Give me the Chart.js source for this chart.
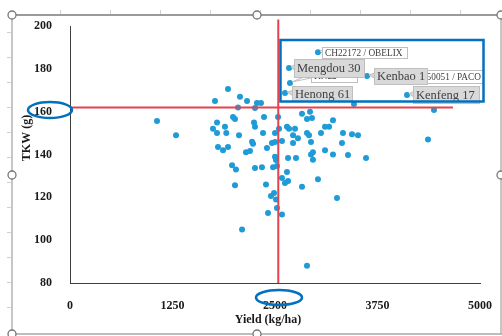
<!DOCTYPE html>
<html>
<head>
<meta charset="utf-8">
<script src="https://cdn.jsdelivr.net/npm/chart.js@4.4.0/dist/chart.umd.min.js"></script>
<style>
  html, body { margin: 0; padding: 0; background: #fff; overflow: hidden; }
  #wrap { width: 502px; height: 336px; }
</style>
</head>
<body>
<div id="wrap"><canvas id="chart" width="502" height="336"></canvas></div>
<script>
/* ── Data ── */
const xTicks = [0, 1250, 2500, 3750, 5000];
const yTicks = [80, 100, 120, 140, 160, 180, 200];

// unlabeled genotypes: yield (kg/ha) and TKW (g)
const yieldVals = [
  1061, 1293, 1768, 1927, 2073, 2159, 2280, 2049, 2256, 1793,
  1988, 2012, 1890, 1744, 1793, 1906, 2061, 2244, 2256, 2220,
  2232, 1805, 1866, 1927, 2146, 2195, 1976, 2024, 2256, 2012,
  2098, 2329, 2829, 2927, 2951, 2890, 3207, 2366, 2537, 2646,
  2671, 2744, 2720, 2780, 2549, 2354, 2500, 2890, 2915, 3061,
  3110, 3159, 3329, 3439, 3512, 2939, 3317, 2402, 2463, 2500,
  2585, 2720, 2963, 2939, 3110, 3207, 3390, 3610, 2659, 2756,
  2963, 2500, 2512, 2341, 2476, 2524, 2646, 2390, 2585, 2622,
  2659, 2829, 3024, 2451, 2488, 2512, 3256, 2415, 2524, 2585,
  2890, 3463, 4439, 4366
];
const tkwVals = [
  155.6, 149.0, 165.0, 170.6, 167.0, 165.0, 164.0, 162.0, 161.7, 155.0,
  157.5, 156.6, 153.0, 152.0, 150.0, 150.0, 149.0, 155.0, 153.0, 146.0,
  145.0, 143.5, 142.0, 143.5, 141.0, 141.6, 135.0, 133.0, 133.7, 125.7,
  105.0, 164.0, 159.0, 160.0, 157.0, 156.6, 156.0, 157.5, 157.5, 153.0,
  152.0, 152.0, 149.0, 147.6, 152.0, 150.0, 150.0, 150.0, 149.0, 150.0,
  153.0, 153.0, 150.0, 149.5, 149.0, 145.8, 145.4, 143.0, 145.4, 145.8,
  146.3, 145.4, 141.0, 140.0, 142.0, 140.0, 139.8, 138.4, 138.4, 138.4,
  137.5, 139.0, 137.4, 134.0, 134.0, 134.6, 131.8, 126.0, 129.0, 126.7,
  127.6, 125.0, 128.5, 120.6, 122.0, 119.0, 119.7, 112.7, 115.0, 112.0,
  88.0, 163.6, 160.8, 147.0
];

// labeled genotypes
const namedGenotypes = ['KN22', 'CH22172 / OBELIX', '50051 / PACO', 'Mengdou 30', 'Kenbao 1', 'Henong 61', 'Kenfeng 17'];
const namedYield     = [2683, 3024, 4146, 2671, 3622, 2622, 4110];
const namedTkw       = [173.4, 187.8, 176.2, 180.4, 176.6, 168.7, 167.8];

// reference lines
const tkwRef   = 162;
const yieldRef = 2540;
const hLineX   = [0, 4670];
const vLineY   = [80, 203];

/* ── Styles ── */
const SERIF  = "'Liberation Serif', 'Times New Roman', serif";
const DOT    = '#1f9bd7';
const RED    = '#e5424d';
const MARK   = '#0070c0';

// callout boxes (pixel offsets from the point)
const calloutStyle = [
  { dx: 21, dy: -13, w: 46, h: 12, big: false },
  { dx: 4,  dy: -5,  w: 85, h: 11, big: false },
  { dx: 0,  dy: -7,  w: 73, h: 13, big: false, right: true },
  { dx: 5,  dy: -9,  w: 70, h: 18, big: true },
  { dx: 7,  dy: -8,  w: 53, h: 16, big: true },
  { dx: 7,  dy: -7,  w: 60, h: 15, big: true },
  { dx: 6,  dy: -9,  w: 66, h: 17, big: true },
];

function drawCallout(ctx, px, py, s, text) {
  const x = Math.round(px + s.dx), y = Math.round(py + s.dy);
  const fill = s.big ? '#d9d9d9' : '#ffffff';
  ctx.fillStyle   = fill;
  ctx.strokeStyle = '#bfbfbf';
  ctx.lineWidth   = 1;
  // tail toward the point
  ctx.beginPath();
  ctx.moveTo(x + 1, y + s.h * 0.3);
  ctx.lineTo(px + 2, py - 1);
  ctx.lineTo(x + 1, y + s.h * 0.65);
  ctx.closePath();
  ctx.fill(); ctx.stroke();
  ctx.fillRect(x, y, s.w, s.h);
  ctx.strokeRect(x + 0.5, y + 0.5, s.w, s.h);
  ctx.fillStyle    = '#404040';
  ctx.textBaseline = 'middle';
  ctx.font = s.big ? `12.5px ${SERIF}` : `9.3px ${SERIF}`;
  if (s.right) {
    ctx.textAlign = 'right';
    ctx.fillText(text, x + s.w - 2, y + s.h / 2 + 1);
  } else {
    ctx.textAlign = 'left';
    ctx.fillText(text, x + 3, y + s.h / 2 + 1);
  }
}

function handle(ctx, x, y) {
  ctx.beginPath();
  ctx.arc(x, y, 4, 0, Math.PI * 2);
  ctx.fillStyle = '#fff'; ctx.fill();
  ctx.strokeStyle = '#777'; ctx.lineWidth = 1.3; ctx.stroke();
}

const decoPlugin = {
  id: 'deco',
  beforeDraw(chart) {
    const ctx = chart.ctx;
    ctx.save();
    ctx.fillStyle = '#fff';
    ctx.fillRect(0, 0, chart.width, chart.height);
    ctx.restore();
  },
  afterDraw(chart) {
    const ctx  = chart.ctx;
    const meta = chart.getDatasetMeta(2);
    ctx.save();

    // callouts: white first, then gray ones on top
    [0, 1, 2, 3, 4, 5, 6].forEach(i => {
      const p = meta.data[i];
      drawCallout(ctx, p.x, p.y, calloutStyle[i], namedGenotypes[i]);
    });

    // blue highlight rectangle and ellipses
    ctx.strokeStyle = MARK;
    ctx.lineWidth   = 2.5;
    ctx.strokeRect(280.5, 40, 203, 61.5);
    ctx.beginPath(); ctx.ellipse(50, 110, 22, 8, 0, 0, Math.PI * 2); ctx.stroke();
    ctx.beginPath(); ctx.ellipse(279, 297.5, 23, 7.5, 0, 0, Math.PI * 2); ctx.stroke();

    // axis titles
    ctx.fillStyle    = '#1a1a1a';
    ctx.font         = `bold 12px ${SERIF}`;
    ctx.textAlign    = 'center';
    ctx.textBaseline = 'middle';
    ctx.fillText('Yield (kg/ha)', 268, 320);
    ctx.save();
    ctx.translate(27, 138);
    ctx.rotate(-Math.PI / 2);
    ctx.fillText('TKW (g)', 0, 0);
    ctx.restore();

    // chart frame (selection look)
    ctx.strokeStyle = '#9a9a9a';
    ctx.lineWidth = 2;
    ctx.beginPath(); ctx.moveTo(12, 15); ctx.lineTo(502, 15); ctx.stroke();
    ctx.lineWidth = 1.3;
    ctx.strokeStyle = '#a8a8a8';
    ctx.beginPath();
    ctx.moveTo(12, 15); ctx.lineTo(12, 334); ctx.lineTo(502, 334);
    ctx.moveTo(501, 15); ctx.lineTo(501, 334);
    ctx.stroke();
    ctx.strokeStyle = '#d0d0d0';
    ctx.lineWidth = 1;
    for (let x = 60; x < 500; x += 50) {
      ctx.beginPath(); ctx.moveTo(x + 0.5, 10); ctx.lineTo(x + 0.5, 14); ctx.stroke();
    }
    for (let y = 32; y < 330; y += 25) {
      ctx.beginPath(); ctx.moveTo(7, y + 0.5); ctx.lineTo(11, y + 0.5); ctx.stroke();
    }
    [[12, 15], [257, 15], [501, 15], [12, 175], [501, 175], [12, 334], [257, 334]]
      .forEach(([x, y]) => handle(ctx, x, y));

    ctx.restore();
  }
};

const tickFont = { family: SERIF, size: 12, weight: 'bold' };

new Chart(document.getElementById('chart'), {
  type: 'scatter',
  data: {
    datasets: [
      {
        data: hLineX.map(x => ({ x, y: tkwRef })),
        showLine: true, borderColor: RED, borderWidth: 2,
        pointRadius: 0, clip: false,
      },
      {
        data: vLineY.map(y => ({ x: yieldRef, y })),
        showLine: true, borderColor: RED, borderWidth: 2,
        pointRadius: 0, clip: false,
      },
      {
        data: namedYield.map((x, i) => ({ x, y: namedTkw[i] })),
        backgroundColor: DOT, borderWidth: 0, pointRadius: 3,
      },
      {
        data: yieldVals.map((x, i) => ({ x, y: tkwVals[i] })),
        backgroundColor: DOT, borderWidth: 0, pointRadius: 3,
      },
    ],
  },
  options: {
    responsive: false,
    animation: false,
    devicePixelRatio: 1,
    layout: { padding: { left: 0, top: 26, right: 22, bottom: 0 } },
    plugins: { legend: { display: false }, tooltip: { enabled: false } },
    scales: {
      x: {
        type: 'linear', min: 0, max: 5000,
        afterBuildTicks: s => { s.ticks = xTicks.map(v => ({ value: v })); },
        afterFit: s => { s.height = 53; },
        grid: { display: false },
        border: { display: true, color: '#3f3f3f', width: 1 },
        ticks: { font: tickFont, color: '#1a1a1a', padding: 8, maxRotation: 0, callback: v => String(v) },
      },
      y: {
        type: 'linear', min: 80, max: 200,
        afterBuildTicks: s => { s.ticks = yTicks.map(v => ({ value: v })); },
        afterFit: s => { s.width = 70; },
        grid: { display: false },
        border: { display: true, color: '#3f3f3f', width: 1 },
        ticks: { font: tickFont, color: '#1a1a1a', padding: 10, callback: v => String(v) },
      },
    },
  },
  plugins: [decoPlugin],
});
</script>
</body>
</html>
